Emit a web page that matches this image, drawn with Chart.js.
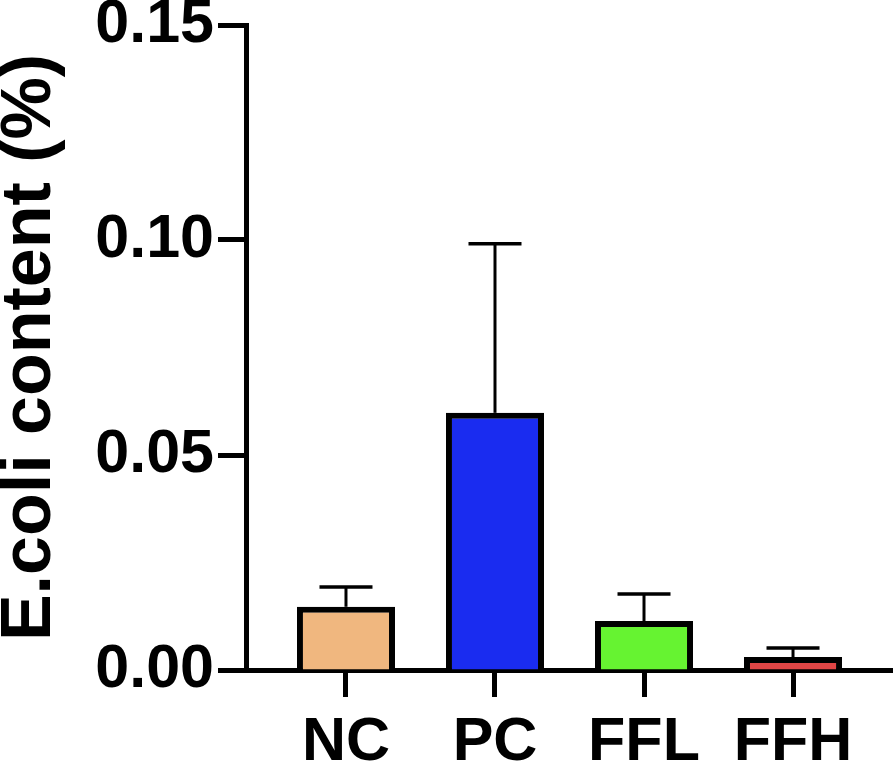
<!DOCTYPE html>
<html>
<head>
<meta charset="utf-8">
<script src="https://cdn.jsdelivr.net/npm/chart.js@4.4.1/dist/chart.umd.min.js"></script>
<style>
  html, body { margin: 0; padding: 0; background: #ffffff; }
  #wrap { width: 893px; height: 770px; }
</style>
</head>
<body>
<div id="wrap"><canvas id="c" width="893" height="770"></canvas></div>
<script>
// ---- data ----
const categories = ['NC', 'PC', 'FFL', 'FFH'];
const meanValues = [0.0147, 0.0598, 0.0114, 0.0030];
const errorValues = [0.0046, 0.0393, 0.0063, 0.0021];
const barColors = ['#F0B77F', '#1A2CF0', '#66F331', '#E04545'];
const yTicks = [0, 0.05, 0.10, 0.15];
const yTitle = 'E.coli content (%)';

const FONT = "'Liberation Sans', Arial, Helvetica, sans-serif";

const errorBarPlugin = {
  id: 'errorBars',
  afterDatasetsDraw(chart) {
    const ctx = chart.ctx;
    const meta = chart.getDatasetMeta(0);
    const yScale = chart.scales.y;
    ctx.save();
    ctx.strokeStyle = '#000';
    ctx.lineCap = 'butt';
    meta.data.forEach((bar, i) => {
      const x = bar.x;
      const yTop = yScale.getPixelForValue(meanValues[i]);
      const yErr = yScale.getPixelForValue(meanValues[i] + errorValues[i]);
      ctx.lineWidth = 3;
      ctx.beginPath();
      ctx.moveTo(x, yTop);
      ctx.lineTo(x, yErr);
      ctx.stroke();
      ctx.lineWidth = 3.5;
      ctx.beginPath();
      ctx.moveTo(x - 26.5, yErr);
      ctx.lineTo(x + 26.5, yErr);
      ctx.stroke();
    });
    ctx.restore();
  }
};

new Chart(document.getElementById('c'), {
  type: 'bar',
  data: {
    datasets: [{
      data: categories.map((c, i) => ({ x: i, y: meanValues[i] })),
      backgroundColor: barColors,
      borderColor: '#000',
      borderWidth: 6,
      borderSkipped: 'start',
      categoryPercentage: 1,
      barPercentage: 0.658
    }]
  },
  options: {
    responsive: false,
    animation: false,
    devicePixelRatio: 1,
    layout: { padding: { top: 25, right: 0, left: 0, bottom: 0 } },
    plugins: { legend: { display: false }, tooltip: { enabled: false } },
    scales: {
      x: {
        type: 'linear',
        offset: false,
        min: -0.671,
        max: 3.671,
        afterBuildTicks(scale) { scale.ticks = categories.map((c, i) => ({ value: i })); },
        afterFit(scale) { scale.height = 100; scale.paddingLeft = 0; scale.paddingRight = 0; },
        border: { display: true, color: '#000', width: 5 },
        grid: { offset: false, drawOnChartArea: false, drawTicks: true, tickLength: 27, tickWidth: 5, tickColor: '#000', color: '#000' },
        ticks: {
          autoSkip: false,
          maxRotation: 0,
          padding: 16,
          color: '#000',
          font: { family: FONT, size: 61, weight: 'bold', lineHeight: 1 },
          callback: (v) => categories[v]
        }
      },
      y: {
        min: 0,
        max: 0.15,
        afterBuildTicks(scale) { scale.ticks = yTicks.map(v => ({ value: v })); },
        afterFit(scale) { scale.width = 246; scale.paddingTop = 0; scale.paddingBottom = 0; },
        border: { display: true, color: '#000', width: 5 },
        grid: { drawOnChartArea: false, drawTicks: true, tickLength: 28, tickWidth: 5, tickColor: '#000', color: '#000' },
        ticks: {
          padding: 4,
          color: '#000',
          font: { family: FONT, size: 61, weight: 'bold', lineHeight: 1 },
          callback: (v) => v.toFixed(2)
        },
        title: {
          display: true,
          text: yTitle,
          color: '#000',
          padding: { top: 0, bottom: 0 },
          font: { family: FONT, size: 70, weight: 'bold', lineHeight: 0.88 }
        }
      }
    }
  },
  plugins: [errorBarPlugin]
});
</script>
</body>
</html>
